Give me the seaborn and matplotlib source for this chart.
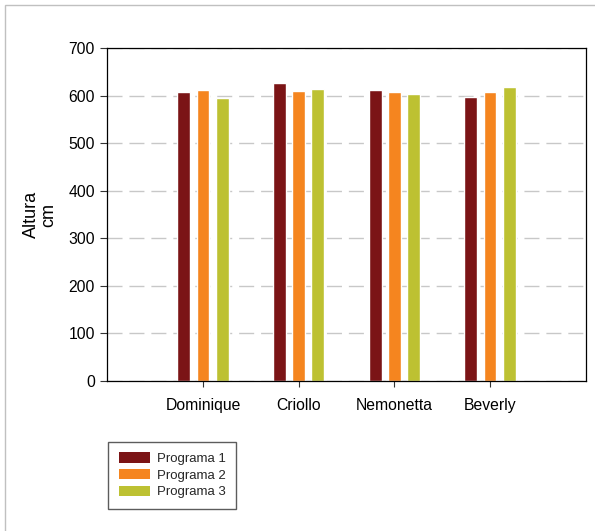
import matplotlib
matplotlib.use("Agg")
import matplotlib.pyplot as plt
import matplotlib.patches as mpatches
import seaborn as sns
import pandas as pd

# Plant height by variety under three programmes
variedades = ["Dominique", "Criollo", "Nemonetta", "Beverly"]
programas = ["Programa 1", "Programa 2", "Programa 3"]
programa_1 = [608, 627, 612, 597]
programa_2 = [612, 610, 608, 609]
programa_3 = [596, 615, 604, 618]
colores = ["#7B1416", "#F5851F", "#BDC132"]
y_ticks = [0, 100, 200, 300, 400, 500, 600, 700]

df = pd.DataFrame({
    "Variedad": variedades * 3,
    "Programa": [p for p in programas for _ in variedades],
    "Altura": programa_1 + programa_2 + programa_3,
})

sns.set_theme(style="white")
plt.rcParams["font.family"] = ["Liberation Sans", "DejaVu Sans"]

fig = plt.figure(figsize=(5.95, 5.31), dpi=100)
ax = fig.add_axes([0.1803, 0.2825, 0.9844 - 0.1803, 0.909 - 0.2825])

sns.barplot(data=df, x="Variedad", y="Altura", hue="Programa",
            order=variedades, hue_order=programas, palette=colores,
            width=0.6, gap=0.33, errorbar=None, saturation=1,
            legend=False, ax=ax)

ax.set_xlim(-1, 4)
ax.set_ylim(0, 700)
ax.set_yticks(y_ticks)
ax.set_xlabel("")
ax.set_ylabel("Altura\ncm", fontsize=13, color="black", labelpad=8,
              linespacing=1.0)

for s in ax.spines.values():
    s.set_visible(True)
    s.set_color("black")
    s.set_linewidth(0.9)

ax.tick_params(axis="y", which="major", direction="out", length=5, width=0.8,
               color="#333333", labelsize=11.3, labelcolor="black", pad=4, left=True)
ax.tick_params(axis="x", which="major", direction="out", length=4, width=0.8,
               color="#333333", labelsize=11.3, labelcolor="black", pad=8, bottom=True)

# dashed reference lines at every 100 cm
ax.set_axisbelow(True)
ax.yaxis.grid(True, color="#c8c8c8", linewidth=1.0, linestyle=(0, (10.8, 5)))
ax.xaxis.grid(False)

# legend below the plot
handles = [mpatches.Patch(facecolor=c, edgecolor="none", label=p)
           for c, p in zip(colores, programas)]
leg = fig.legend(handles=handles, loc="upper left",
                 bbox_to_anchor=(108 / 595, 1 - 441.5 / 531),
                 bbox_transform=fig.transFigure,
                 fontsize=9.5, frameon=True, fancybox=False,
                 handlelength=2.35, handleheight=0.85, handletextpad=0.55,
                 labelspacing=0.3, borderpad=0.8, borderaxespad=0)
leg.get_frame().set_edgecolor("#333333")
leg.get_frame().set_linewidth(1.0)

# thin outer frame
fig.patches.append(mpatches.Rectangle((5 / 595, -0.1), 1.2, 1 - 5 / 531 + 0.1,
                                      transform=fig.transFigure, fill=False,
                                      edgecolor="#c0c0c0", linewidth=1.0))

fig.savefig("out.png", dpi=100, facecolor="white")
